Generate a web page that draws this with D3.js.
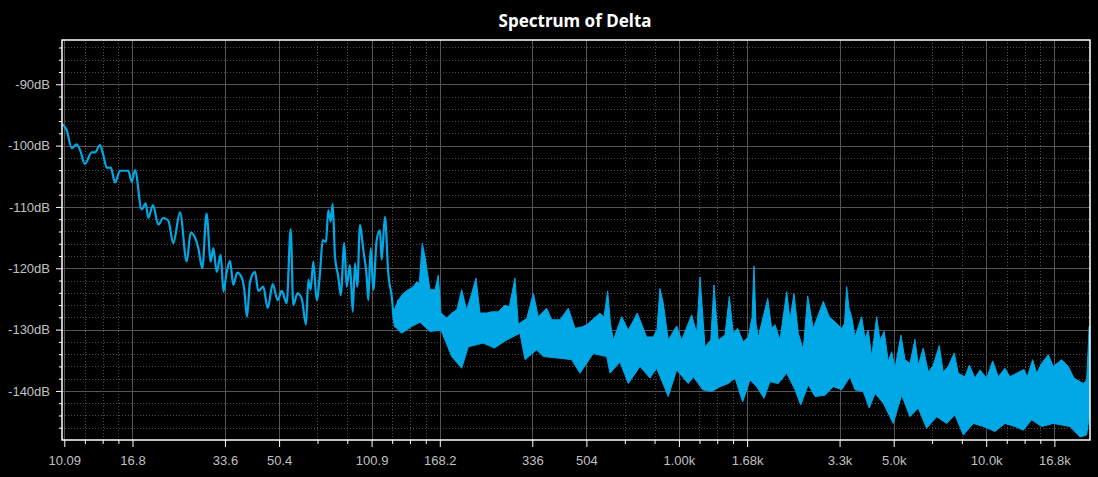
<!DOCTYPE html>
<html>
<head>
<meta charset="utf-8">
<script src="https://cdn.jsdelivr.net/npm/d3@7"></script>
<style>
  html, body { margin: 0; padding: 0; background: #000; }
  svg { display: block; font-family: "Noto Sans", "Open Sans", sans-serif; }
</style>
</head>
<body>
<div id="chart"></div>
<script>
// low end of the spectrum, a single trace (Hz, dB)
const lineFreq = [9.97,10.27,10.67,11.07,11.35,11.78,12.39,12.70,13.18,13.51,
  13.87,14.29,14.76,15.31,16.30,16.72,17.14,18.02,18.57,18.93,
  19.61,20.41,21.18,21.99,22.83,24.01,25.25,26.01,27.54,28.38,
  29.29,30.22,30.82,31.61,32.57,33.26,34.07,34.92,35.79,36.88,
  38.12,38.87,39.66,40.56,42.11,43.16,44.81,46.32,48.09,49.92,
  51.44,53.40,55.03,56.11,57.91,59.76,61.72,62.79,63.93,65.19,
  66.87,68.54,69.94,71.69,72.94,74.26,75.39,76.70,78.62,80.04,
  82.23,83.72,85.82,87.57,89.09,90.64,92.50,94.81,97.26,98.43,
  100.2,102.2,104.8,107.4,108.8,111.5,114.3,117.3,120.2,123.2];
const lineDb = [-96.5,-97.5,-100.4,-99.8,-100.7,-103.0,-101.1,-101.1,-99.9,-101.5,
  -103.6,-103.6,-106.0,-104.1,-104.1,-105.9,-104.0,-110.4,-109.4,-111.8,
  -109.7,-112.9,-111.8,-112.2,-115.9,-110.9,-118.9,-114.2,-116.7,-120.0,
  -111.1,-118.9,-116.7,-120.6,-117.8,-123.8,-120.6,-118.8,-122.7,-120.7,
  -121.5,-123.5,-127.9,-122.3,-120.6,-123.7,-123.0,-126.5,-122.6,-125.2,
  -123.7,-125.7,-113.6,-126.0,-124.1,-124.9,-129.2,-121.9,-123.5,-118.9,
  -125.2,-120.8,-115.4,-115.7,-110.5,-112.4,-109.5,-118.1,-121.4,-124.4,
  -115.9,-123.0,-119.5,-127.1,-119.2,-123.0,-112.9,-117.0,-121.4,-125.2,
  -116.7,-123.5,-115.4,-113.8,-118.6,-111.6,-120.8,-124.6,-129.5,-125.2];

// above ~120 Hz the trace is so dense it reads as a band: top edge
const bandTopFreq = [118.4,123.2,127.9,132.8,137.9,141.4,144.2,147.5,150.5,156.3,
  162.2,166.3,169.7,177.1,183.9,190.9,198.2,205.7,213.6,220.6,
  227.3,239.0,248.1,260.7,274.1,283.1,295.4,302.8,322.5,338.9,
  351.8,374.6,388.9,414.0,440.6,463.2,492.9,511.7,558.5,575.6,591.7,604.2,
  617.1,657.2,690.5,738.7,792.5,832.7,856.0,875.5,897.5,931.6,992.3,1030,
  1110,1153,1182,1227,1281,1312,1355,1425,1472,1516,
  1567,1634,1697,1745,1771,1798,1829,1963,2022,2073,2152,2263,
  2319,2390,2468,2562,2648,2761,2977,3114,3291,3417,3489,
  3547,3609,3683,3775,3968,4068,4170,4277,4440,4552,4700,
  4843,4968,5093,5327,5489,5698,5916,6064,6296,6536,
  6785,7097,7313,7592,7941,8183,8604,8886,9274,9630,
  10125,10590,11044,11613,12056,12677,13389,13724,14290,14725,
  15286,16062,16675,17758,18659,19474,20875,21413,21834];
const bandTopDb = [-127.3,-125.2,-124.1,-123.5,-123.0,-122.2,-122.4,-115.9,-118.1,-123.5,
  -123.5,-121.1,-127.3,-128.1,-127.3,-126.8,-123.5,-126.8,-124.1,-121.6,
  -127.3,-127.3,-127.1,-127.1,-126.0,-126.3,-121.6,-129.1,-128.2,-124.1,
  -127.9,-126.5,-128.4,-128.4,-126.5,-129.8,-129.5,-129.0,-127.3,-128.0,-123.7,-129.0,
  -131.7,-127.9,-130.1,-127.3,-131.2,-131.2,-130.0,-123.3,-125.7,-131.7,-129.4,-131.7,
  -127.6,-130.6,-121.4,-132.8,-131.7,-122.7,-131.7,-130.9,-124.6,-130.6,
  -129.8,-132.0,-131.2,-128.0,-119.6,-129.0,-131.2,-124.9,-129.8,-129.2,-131.7,-123.8,
  -128.4,-124.1,-130.6,-133.3,-124.5,-129.8,-125.4,-127.9,-129.0,-129.8,-129.0,
  -123.0,-126.5,-127.9,-131.2,-127.9,-131.4,-130.1,-134.4,-127.9,-131.7,-130.3,
  -135.2,-133.6,-136.3,-130.9,-134.9,-135.5,-131.6,-135.8,-133.0,-136.9,
  -135.8,-132.6,-136.9,-136.0,-133.8,-137.1,-137.7,-135.8,-137.9,-136.6,
  -137.9,-135.1,-137.7,-136.3,-137.7,-137.1,-136.5,-137.7,-134.9,-137.1,
  -135.5,-134.1,-136.0,-134.9,-136.0,-137.9,-138.8,-138.2,-129.5];

// bottom edge of the band
const bandLowFreq = [118.4,120.2,126.4,136.2,145.0,156.3,169.7,183.9,198.2,208.2,
  232.9,253.0,277.6,306.7,318.4,347.5,365.2,419.3,451.8,480.9,
  531.2,587.3,602.0,648.9,690.5,754.0,812.3,854.1,931.6,992.3,
  1082,1124,1206,1290,1373,1460,1536,1627,1719,1807,
  1909,1996,2124,2263,2408,2513,2660,2797,3015,3208,
  3417,3636,3775,4016,4201,4385,4666,5028,5355,5698,
  6064,6458,6960,7501,7983,8499,9158,9870,10774,11613,
  12515,13319,14184,15286,16675,17973,18898,20370,21413,21834];
const bandLowDb = [-127.3,-129.5,-130.6,-129.5,-128.8,-130.3,-130.1,-134.4,-136.3,-132.8,
  -132.2,-133.0,-131.7,-130.6,-134.9,-133.3,-134.4,-134.7,-134.9,-137.1,
  -133.9,-134.4,-137.1,-135.3,-138.8,-136.0,-137.9,-136.3,-140.9,-136.6,
  -138.8,-137.7,-139.8,-140.1,-139.3,-138.8,-137.9,-141.8,-138.2,-139.3,
  -141.2,-138.5,-138.8,-137.1,-139.8,-142.3,-139.0,-140.9,-140.7,-139.3,
  -139.8,-137.7,-139.8,-140.1,-142.8,-140.4,-142.0,-145.3,-140.7,-144.2,
  -142.8,-146.1,-144.2,-145.3,-143.9,-147.2,-145.3,-145.8,-146.6,-145.3,
  -145.8,-146.4,-144.7,-145.8,-145.3,-145.6,-145.8,-147.5,-147.2,-144.2];

// axis ticks
const xTicks = [10.09,16.82,33.63,50.45,100.9,168.2,336.3,504.5,1009,1682,3363,5045,10090,16817];
const xLabels = ["10.09","16.8","33.6","50.4","100.9","168.2","336","504","1.00k","1.68k","3.3k","5.0k","10.0k","16.8k"];
const xMinor = [11.77,13.45,15.14,67.27,84.08,117.7,134.5,151.4,672.7,840.8,1177,1345,1514,6727,8408,11772,13453,15135];
const yTicks = [-140,-130,-120,-110,-100,-90];
const yMinor = [-146,-144,-142,-138,-136,-134,-132,-128,-126,-124,-122,-118,-116,-114,-112,-108,-106,-104,-102,-98,-96,-94,-92,-88,-86,-84];

const traceColor = "#00a8e6";

const margin = {top: 40, right: 8, bottom: 37, left: 62},
  width = 1098 - margin.left - margin.right,
  height = 477 - margin.top - margin.bottom;

const root = d3.select("#chart")
  .append("svg")
  .attr("width", width + margin.left + margin.right)
  .attr("height", height + margin.top + margin.bottom)
  .style("background", "#000");

root.append("text")
  .attr("x", margin.left + width / 2 - 1)
  .attr("y", 27)
  .attr("text-anchor", "middle")
  .attr("fill", "#fff")
  .style("font-size", "17px")
  .style("font-weight", "bold")
  .text("Spectrum of Delta");

const svg = root.append("g")
  .attr("transform", `translate(${margin.left},${margin.top})`);

const x = d3.scaleLog().domain([9.918, 21959]).range([0, width]);
const y = d3.scaleLinear().domain([-148, -82.78]).range([height, 0]);

const px = v => Math.round(x(v)) + 0.5;
const py = v => Math.round(y(v)) + 0.5;

// grid
const grid = svg.append("g");
grid.selectAll(".xmin").data(xMinor).join("line")
  .attr("x1", px).attr("x2", px).attr("y1", 0).attr("y2", height)
  .attr("stroke", "#4d4d4d").attr("stroke-dasharray", "1,2");
grid.selectAll(".ymin").data(yMinor).join("line")
  .attr("y1", py).attr("y2", py).attr("x1", 0).attr("x2", width)
  .attr("stroke", "#4d4d4d").attr("stroke-dasharray", "1,2");
grid.selectAll(".xmaj").data(xTicks).join("line")
  .attr("x1", px).attr("x2", px).attr("y1", 0).attr("y2", height)
  .attr("stroke", "#555");
grid.selectAll(".ymaj").data(yTicks).join("line")
  .attr("y1", py).attr("y2", py).attr("x1", 0).attr("x2", width)
  .attr("stroke", "#555");

// trace
svg.append("clipPath").attr("id", "plotclip")
  .append("rect").attr("width", width).attr("height", height);
const plot = svg.append("g").attr("clip-path", "url(#plotclip)");

const edgeGen = d3.line().x(d => x(d[0])).y(d => y(d[1]));
const traceGen = d3.line().x(d => x(d[0])).y(d => y(d[1])).curveMonotoneX ? null : null;
const smoothGen = d3.line().x(d => x(d[0])).y(d => y(d[1])).curve(d3.curveMonotoneX);

const bandTop = bandTopFreq.map((f, i) => [f, bandTopDb[i]]);
const bandLow = bandLowFreq.map((f, i) => [f, bandLowDb[i]]);
plot.append("path")
  .attr("d", edgeGen(bandTop.concat(bandLow.slice().reverse())) + "Z")
  .attr("fill", traceColor)
  .attr("stroke", traceColor)
  .attr("stroke-width", 1)
  .attr("stroke-linejoin", "miter");

const linePts = lineFreq.map((f, i) => [f, lineDb[i]]);
plot.append("path")
  .attr("d", smoothGen(linePts))
  .attr("fill", "none")
  .attr("stroke", traceColor)
  .attr("stroke-width", 2.2)
  .attr("stroke-linejoin", "round");

// axes
const styleAxis = g => {
  g.select(".domain").remove();
  g.selectAll(".tick line").attr("stroke", "#fff");
  g.selectAll(".tick text").attr("fill", "#c0c0c0").style("font-size", "13px");
};

svg.append("g")
  .attr("transform", `translate(0,${height})`)
  .call(d3.axisBottom(x).tickValues(xMinor).tickSize(4).tickFormat(""))
  .call(styleAxis);
const gx = svg.append("g")
  .attr("transform", `translate(0,${height})`)
  .call(d3.axisBottom(x).tickValues(xTicks).tickSize(7).tickFormat((d, i) => xLabels[i]))
  .call(styleAxis);
gx.selectAll(".tick text").attr("y", 16);

svg.append("g")
  .call(d3.axisLeft(y).tickValues(yMinor).tickSize(3).tickFormat(""))
  .call(styleAxis);
svg.append("g")
  .call(d3.axisLeft(y).tickValues(yTicks).tickSize(6).tickPadding(6).tickFormat(d => d + "dB"))
  .call(styleAxis);

// frame
svg.append("rect")
  .attr("x", 0).attr("y", 0)
  .attr("width", width).attr("height", height)
  .attr("fill", "none")
  .attr("stroke", "#fff")
  .attr("stroke-width", 1.5);
</script>
</body>
</html>
